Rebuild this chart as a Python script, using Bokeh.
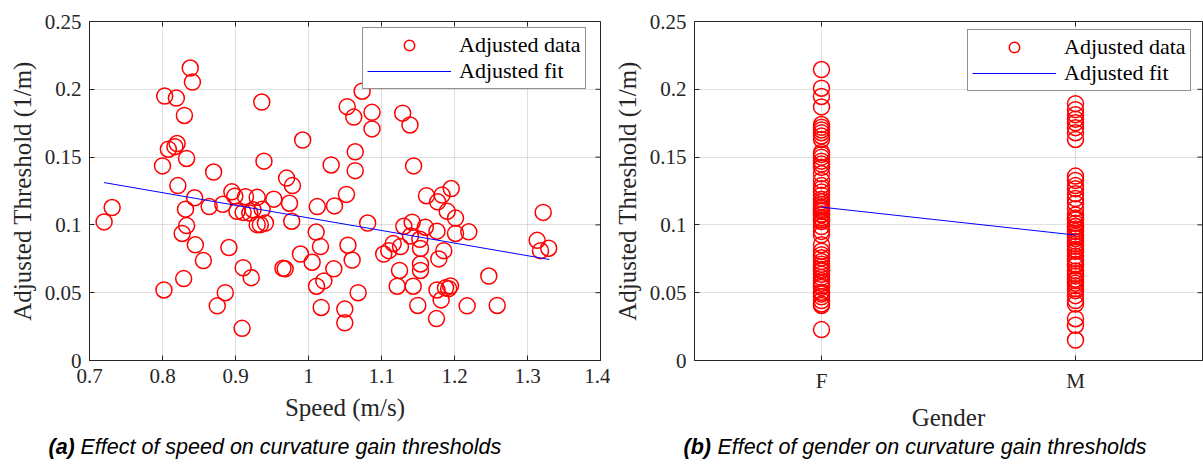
import math
import json
from bokeh.plotting import figure
from bokeh.layouts import row, column
from bokeh.models import Range1d, FixedTicker, CustomJSTickFormatter, Legend
from bokeh.core.properties import value
from bokeh.embed import file_html
from bokeh.resources import INLINE

# ---------------- data ----------------
speed = [0.720, 0.731, 0.800, 0.802, 0.803, 0.808, 0.817, 0.819, 0.820, 0.821,
         0.827, 0.829, 0.830, 0.8315, 0.833, 0.833, 0.838, 0.841, 0.844, 0.845,
         0.856, 0.864, 0.870, 0.875, 0.8826, 0.886, 0.891, 0.895, 0.899, 0.902,
         0.909, 0.9105, 0.9105, 0.9137, 0.9196, 0.9215, 0.924, 0.9297, 0.9297, 0.934,
         0.936, 0.9365, 0.939, 0.941, 0.9525, 0.965, 0.968, 0.970, 0.974, 0.977,
         0.978, 0.989, 0.992, 1.005, 1.0105, 1.011, 1.012, 1.0164, 1.0174, 1.021,
         1.031, 1.0347, 1.0356, 1.0497, 1.0497, 1.052, 1.053, 1.054, 1.0598, 1.062,
         1.064, 1.064, 1.068, 1.0735, 1.081, 1.087, 1.087, 1.103, 1.110, 1.116,
         1.1215, 1.1247, 1.126, 1.129, 1.1306, 1.139, 1.1397, 1.142, 1.1434, 1.144,
         1.1497, 1.1525, 1.1534, 1.1534, 1.1534, 1.160, 1.1616, 1.1753, 1.176, 1.176,
         1.177, 1.1785, 1.1817, 1.183, 1.1853, 1.1877, 1.190, 1.192, 1.1945, 1.1955,
         1.2014, 1.2014, 1.2173, 1.2196, 1.247, 1.2585, 1.3132, 1.3178, 1.3215, 1.329]
threshold = [0.1022, 0.1128, 0.1435, 0.052, 0.195, 0.1558, 0.1577, 0.1935, 0.160, 0.129,
             0.0937, 0.0604, 0.1807, 0.1116, 0.149, 0.0995, 0.2157, 0.2053, 0.120, 0.0853,
             0.0737, 0.1135, 0.139, 0.0403, 0.1152, 0.050, 0.0833, 0.1244, 0.1212, 0.110,
             0.0237, 0.0684, 0.1092, 0.1208, 0.1087, 0.0611, 0.1111, 0.1203, 0.1002, 0.1002,
             0.1906, 0.1116, 0.147, 0.1014, 0.119, 0.068, 0.0676, 0.1345, 0.116, 0.1027,
             0.129, 0.0785, 0.1626, 0.0725, 0.0947, 0.0548, 0.1135, 0.084, 0.0391, 0.0587,
             0.1442, 0.0676, 0.114, 0.0379, 0.0278, 0.1225, 0.1872, 0.085, 0.0741, 0.1795,
             0.1539, 0.140, 0.050, 0.1986, 0.1014, 0.183, 0.1708, 0.0785, 0.081, 0.0862,
             0.0548, 0.0664, 0.084, 0.1824, 0.099, 0.1737, 0.0918, 0.102, 0.0548, 0.1435,
             0.0406, 0.0894, 0.0826, 0.0712, 0.0664, 0.0983, 0.1215, 0.0309, 0.0954, 0.052,
             0.117, 0.0749, 0.0447, 0.122, 0.081, 0.0536, 0.110, 0.053, 0.055, 0.1268,
             0.105, 0.0937, 0.0403, 0.0949, 0.0623, 0.0406, 0.0886, 0.081, 0.1092, 0.0828]
fit_speed = [0.72, 1.33]
fit_threshold = [0.1312, 0.0745]

speed_ticks = [0.7, 0.8, 0.9, 1.0, 1.1, 1.2, 1.3, 1.4]
threshold_ticks = [0.0, 0.05, 0.1, 0.15, 0.2, 0.25]

genders = ["F", "M"]
female_threshold = [0.2146, 0.2008, 0.1947, 0.187, 0.174, 0.172, 0.170, 0.168, 0.1656, 0.163,
                    0.1534, 0.152, 0.1498, 0.147, 0.1449, 0.1425, 0.1377, 0.1328, 0.129, 0.1267,
                    0.1243, 0.1219, 0.119, 0.117, 0.115, 0.1134, 0.1122, 0.111, 0.1098, 0.108,
                    0.1073, 0.105, 0.1036, 0.1025, 0.0988, 0.0952, 0.0927, 0.0854, 0.0806, 0.078,
                    0.0757, 0.073, 0.0709, 0.069, 0.0672, 0.066, 0.0636, 0.0612, 0.0588, 0.057,
                    0.0551, 0.0539, 0.0503, 0.049, 0.047, 0.0442, 0.0417, 0.0406, 0.0228]
male_threshold = [0.1894, 0.185, 0.1813, 0.178, 0.1753, 0.1717, 0.168, 0.163, 0.136, 0.1328,
                  0.129, 0.1267, 0.123, 0.1194, 0.1158, 0.112, 0.1073, 0.105, 0.1036, 0.1012,
                  0.099, 0.0988, 0.097, 0.0952, 0.093, 0.0915, 0.09, 0.0879, 0.086, 0.0843,
                  0.082, 0.0806, 0.077, 0.075, 0.0733, 0.071, 0.0697, 0.066, 0.064, 0.0624,
                  0.060, 0.0588, 0.057, 0.0551, 0.053, 0.0515, 0.0478, 0.0442, 0.0417, 0.0308,
                  0.026, 0.0151]
gender_fit = [0.1131, 0.0925]

caption_tags = ["(a)", "(b)"]
caption_texts = ["Effect of speed on curvature gain thresholds",
                 "Effect of gender on curvature gain thresholds"]

# ---------------- styling ----------------
SERIF = "Liberation Serif"
CAP_FONT = "Liberation Sans"
TXT = "#262626"
CAP_H = 30
num_fmt = CustomJSTickFormatter(code="return String(Math.round(tick*1000)/1000);")


def frame_style(p, xticks, yticks, xfmt, xr, yr):
    p.background_fill_color = "white"
    p.border_fill_color = "white"
    p.outline_line_color = TXT
    p.outline_line_width = 1
    p.xaxis.ticker = FixedTicker(ticks=xticks)
    p.yaxis.ticker = FixedTicker(ticks=yticks)
    p.xaxis.formatter = xfmt
    p.yaxis.formatter = num_fmt
    p.xgrid.ticker = FixedTicker(ticks=xticks)
    p.ygrid.ticker = FixedTicker(ticks=yticks)
    for g in (p.xgrid, p.ygrid):
        g.grid_line_color = TXT
        g.grid_line_alpha = 0.15
        g.grid_line_width = 1
    for ax in p.axis:
        ax.axis_line_color = TXT
        ax.major_tick_line_color = TXT
        ax.major_tick_in = 5
        ax.major_tick_out = 0
        ax.minor_tick_line_color = None
        ax.major_label_text_font = SERIF
        ax.major_label_text_font_size = "21px"
        ax.major_label_text_color = TXT
        ax.axis_label_text_font = SERIF
        ax.axis_label_text_font_size = "25px"
        ax.axis_label_text_font_style = "normal"
        ax.axis_label_text_color = TXT
    p.xaxis.major_label_standoff = 8
    p.xaxis.axis_label_standoff = 8
    p.yaxis.major_label_standoff = 8
    p.yaxis.axis_label_standoff = 6
    # MATLAB-style inward ticks on the top and right edges of the box
    p.ray(x=xticks, y=[yr[1]] * len(xticks), length=5, length_units="screen",
          angle=-math.pi / 2, line_color=TXT, line_width=1)
    p.ray(x=[xr[1]] * len(yticks), y=yticks, length=5, length_units="screen",
          angle=math.pi, line_color=TXT, line_width=1)


def add_legend(p, r_data, r_fit, loc):
    lg = Legend(items=[("Adjusted data", [r_data]), ("Adjusted fit", [r_fit])],
                location=loc, padding=4, spacing=0,
                glyph_width=84, glyph_height=26, label_height=26, label_standoff=8,
                label_text_font=SERIF, label_text_font_size="22px", label_text_color="black",
                border_line_color=TXT, border_line_width=1, background_fill_color="white",
                background_fill_alpha=1)
    p.add_layout(lg)


# ---------------- (a) speed ----------------
xr_a, yr_a = (0.7, 1.4), (0, 0.25)
pa = figure(width=610, height=464 - CAP_H, x_range=Range1d(*xr_a), y_range=Range1d(*yr_a),
            output_backend="svg", toolbar_location=None,
            min_border_left=89, min_border_right=10, min_border_top=15,
            min_border_bottom=464 - CAP_H - 360)
pa.xaxis.axis_label = "Speed (m/s)"
pa.yaxis.axis_label = "Adjusted Threshold (1/m)"
frame_style(pa, speed_ticks, threshold_ticks, num_fmt, xr_a, yr_a)
ra = pa.scatter(speed, threshold, marker="circle", size=16, fill_color=None,
                line_color="#ff0000", line_width=1.5)
la = pa.line(fit_speed, fit_threshold, line_color="#0000ff", line_width=1)
add_legend(pa, ra, la, (273, 271))

# ---------------- (b) gender ----------------
xr_b, yr_b = (0.5, 2.5), (0, 0.25)
pb = figure(width=593, height=464 - CAP_H, x_range=Range1d(*xr_b), y_range=Range1d(*yr_b),
            output_backend="svg", toolbar_location=None,
            min_border_left=84, min_border_right=1, min_border_top=21,
            min_border_bottom=464 - CAP_H - 364)
pb.xaxis.axis_label = "Gender"
pb.yaxis.axis_label = "Adjusted Threshold (1/m)"
gender_pos = list(range(1, len(genders) + 1))
cat_fmt = CustomJSTickFormatter(code="const c = %s; return c[Math.round(tick) - 1];" % json.dumps(genders))
frame_style(pb, gender_pos, threshold_ticks, cat_fmt, xr_b, yr_b)
gx = [gender_pos[0]] * len(female_threshold) + [gender_pos[1]] * len(male_threshold)
gy = female_threshold + male_threshold
rb = pb.scatter(gx, gy, marker="circle", size=16, fill_color=None,
                line_color="#ff0000", line_width=1.5)
lb = pb.line(gender_pos, gender_fit, line_color="#0000ff", line_width=1)
add_legend(pb, rb, lb, (273, 269))

# ---------------- captions strip (pixel coordinates) ----------------
pc = figure(width=1203, height=CAP_H, x_range=Range1d(0, 1203), y_range=Range1d(0, CAP_H),
            output_backend="svg", toolbar_location=None, x_axis_type=None, y_axis_type=None,
            min_border=0)
pc.outline_line_color = None
pc.xgrid.visible = False
pc.ygrid.visible = False
tag_x = [48, 683]
text_x = [80, 717]
cap_y = [CAP_H - 12, CAP_H - 12]
pc.text(x=tag_x, y=cap_y, text=caption_tags, text_font=value(CAP_FONT),
        text_font_style="bold italic", text_font_size="21.5px", text_color="black",
        text_baseline="middle", text_align="left")
pc.text(x=text_x, y=cap_y, text=caption_texts, text_font=value(CAP_FONT),
        text_font_style="italic", text_font_size="21.5px", text_color="black",
        text_baseline="middle", text_align="left")

layout = column(row(pa, pb), pc)
open("out.html", "w").write(file_html(layout, INLINE))
